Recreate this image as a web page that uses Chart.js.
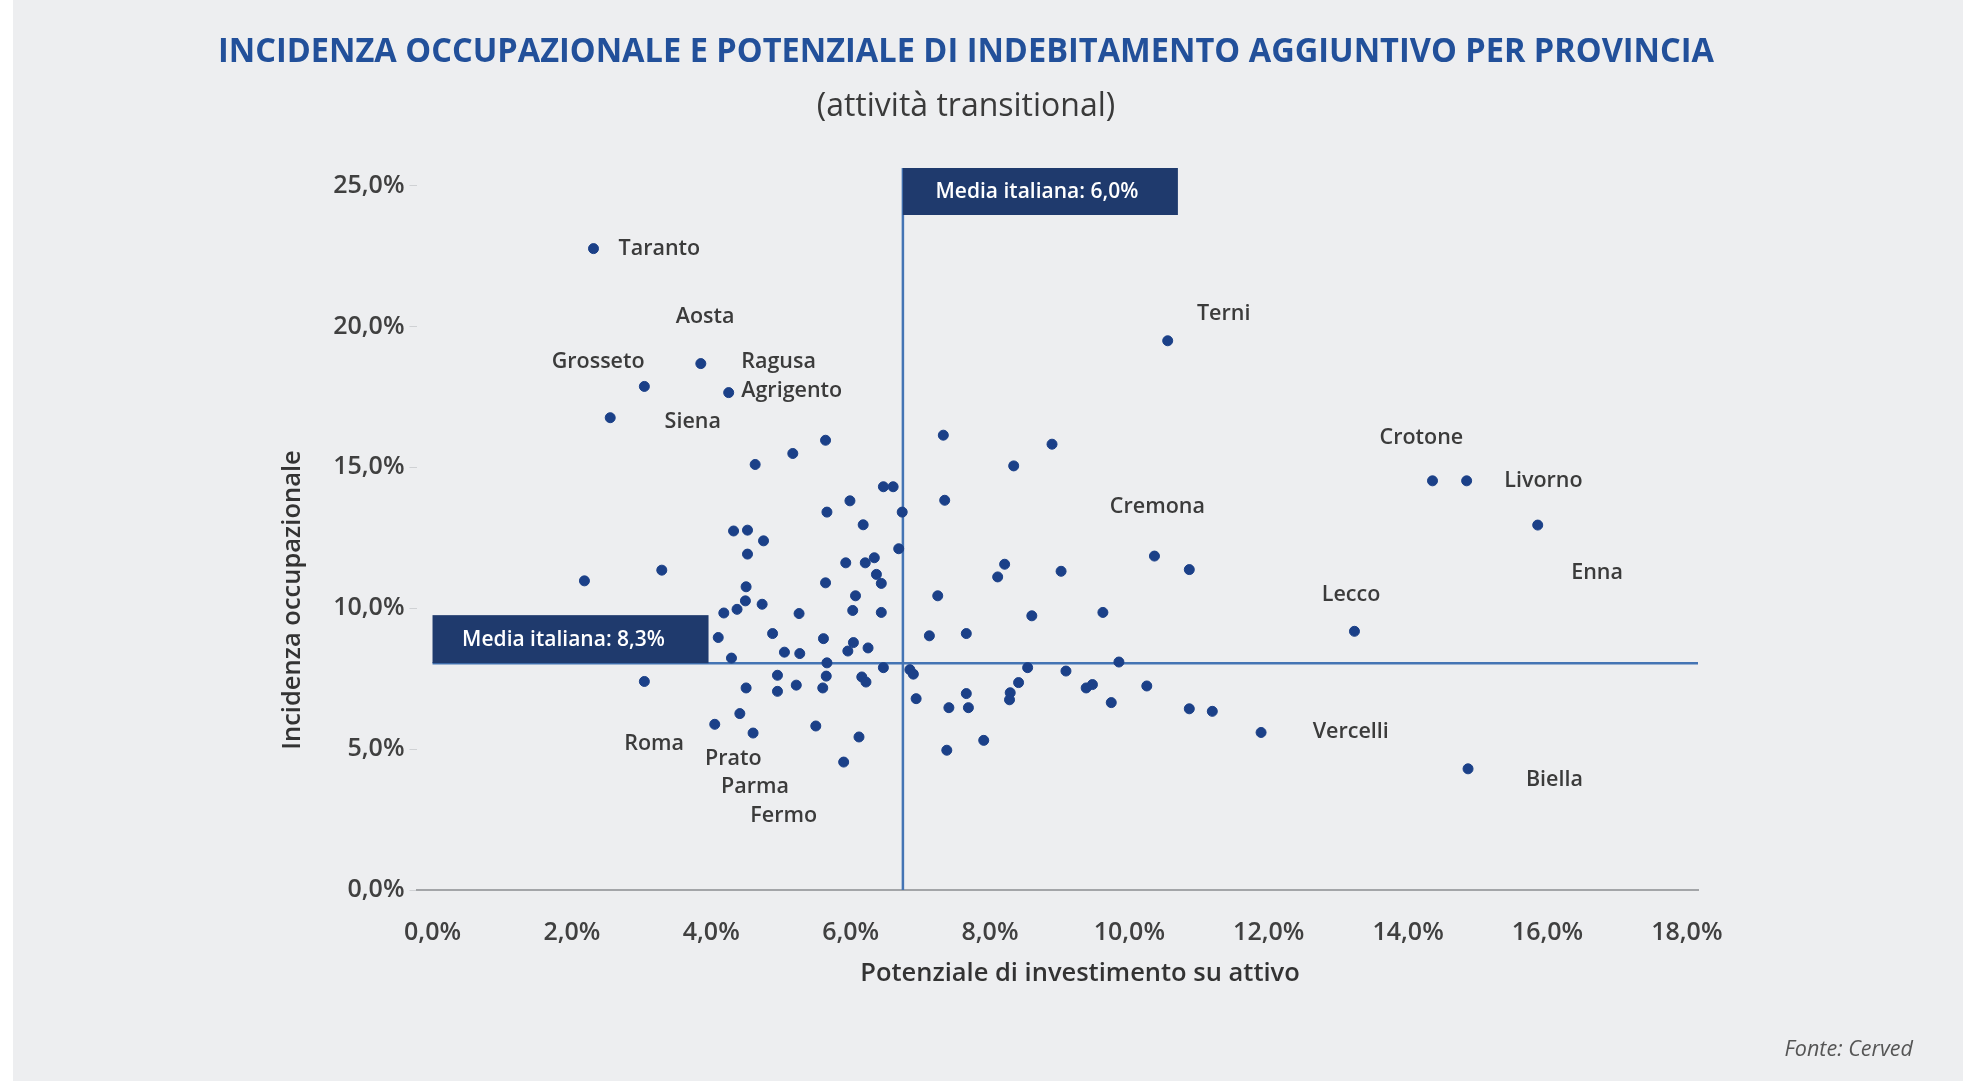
<!DOCTYPE html>
<html lang="it">
<head>
<meta charset="utf-8">
<title>Incidenza occupazionale e potenziale di indebitamento aggiuntivo per provincia</title>
<script src="https://cdn.jsdelivr.net/npm/chart.js@4.4.1/dist/chart.umd.min.js"></script>
<style>
  html, body { margin: 0; padding: 0; background: #ffffff; }
  #wrap { width: 1979px; height: 1084px; }
</style>
</head>
<body>
<div id="wrap"><canvas id="scatter" width="1979" height="1084"></canvas></div>
<script>
// potenziale di investimento su attivo (%) - one entry per province
const xValues = [
  2.31, 3.85, 3.04, 4.25, 2.55, 10.55, 14.35, 14.84, 15.86, 13.23, 11.89, 14.86,
  5.64, 5.17, 4.63, 6.47, 6.61, 5.99, 5.66, 6.74, 6.18, 4.32, 4.52, 4.75, 4.52,
  6.69, 5.93, 6.21, 6.34, 6.37, 6.44, 2.18, 3.29, 5.64, 4.50, 4.49, 4.37, 4.18,
  4.73, 5.26, 6.07, 6.03, 6.44, 7.25, 4.10, 4.88, 5.61, 6.04, 5.96, 6.25, 7.13,
  4.29, 5.05, 5.27, 5.66, 6.47, 6.85, 6.90, 3.04, 4.95, 5.65, 6.16, 6.22, 4.50,
  4.95, 5.22, 5.60, 6.94, 4.41, 4.05, 4.60, 5.50, 6.12, 5.90,
  7.33, 8.89, 8.34, 7.35, 8.21, 8.11, 9.02, 10.36, 10.86, 8.60, 9.62, 7.66,
  8.54, 9.09, 9.85, 8.41, 8.29, 8.28, 9.38, 9.47, 10.25, 7.66, 7.41, 7.69,
  9.74, 10.86, 11.19, 7.91, 7.38
];
// incidenza occupazionale (%)
const yValues = [
  22.76, 18.68, 17.87, 17.65, 16.76, 19.49, 14.52, 14.52, 12.95, 9.18, 5.59, 4.30,
  15.96, 15.49, 15.10, 14.31, 14.31, 13.81, 13.41, 13.41, 12.96, 12.74, 12.77, 12.39, 11.92,
  12.11, 11.61, 11.61, 11.79, 11.20, 10.88, 10.97, 11.35, 10.90, 10.76, 10.26, 9.96, 9.83,
  10.14, 9.81, 10.44, 9.92, 9.85, 10.44, 8.96, 9.10, 8.92, 8.78, 8.48, 8.59, 9.02,
  8.23, 8.44, 8.39, 8.06, 7.89, 7.82, 7.66, 7.40, 7.62, 7.59, 7.56, 7.38, 7.17,
  7.05, 7.27, 7.17, 6.79, 6.26, 5.88, 5.57, 5.82, 5.43, 4.54,
  16.14, 15.82, 15.05, 13.83, 11.56, 11.11, 11.31, 11.85, 11.37, 9.73, 9.85, 9.10,
  7.89, 7.77, 8.09, 7.36, 7.00, 6.75, 7.17, 7.29, 7.24, 6.97, 6.47, 6.47,
  6.65, 6.43, 6.34, 5.31, 4.96
];

// province names shown on the chart, anchored by their left edge / vertical centre
const labelNames = ['Taranto', 'Aosta', 'Grosseto', 'Ragusa', 'Agrigento', 'Siena', 'Terni',
  'Crotone', 'Livorno', 'Enna', 'Cremona', 'Lecco', 'Vercelli', 'Biella',
  'Roma', 'Prato', 'Parma', 'Fermo'];
const labelX = [2.67, 3.49, 1.71, 4.43, 4.43, 3.33, 10.97,
  13.59, 15.38, 16.34, 9.72, 12.76, 12.63, 15.69,
  2.75, 3.91, 4.14, 4.56];
const labelY = [22.76, 20.34, 18.73, 18.73, 17.70, 16.62, 20.43,
  16.04, 14.52, 11.25, 13.58, 10.48, 5.60, 3.90,
  5.20, 4.66, 3.67, 2.64];

// axis ticks
const xTicks = [0, 2, 4, 6, 8, 10, 12, 14, 16, 18];
const yTicks = [0, 5, 10, 15, 20, 25];

// italian averages (line positions as drawn, and their captions)
const mediaX = 6.75;
const mediaY = 8.05;
const mediaXText = 'Media italiana: 6,0%';
const mediaYText = 'Media italiana: 8,3%';

const titleText = 'INCIDENZA OCCUPAZIONALE E POTENZIALE DI INDEBITAMENTO AGGIUNTIVO PER PROVINCIA';
const subtitleText = '(attività transitional)';
const xTitle = 'Potenziale di investimento su attivo';
const yTitle = 'Incidenza occupazionale';
const sourceText = 'Fonte: Cerved';

const pct = v => v.toFixed(1).replace('.', ',') + '%';
const FONT = '"Open Sans", "Noto Sans", sans-serif';

const navy = '#1f3a6d';
const lineBlue = '#4474b4';

const decor = {
  id: 'decor',
  beforeDraw(chart) {
    const ctx = chart.ctx;
    ctx.save();
    ctx.fillStyle = '#ffffff';
    ctx.fillRect(0, 0, chart.width, chart.height);
    ctx.fillStyle = '#edeef0';
    ctx.fillRect(13, 0, 1950, 1081);

    ctx.textAlign = 'center';
    ctx.textBaseline = 'middle';
    ctx.fillStyle = '#22509a';
    ctx.font = 'bold 34px ' + FONT;
    ctx.fillText(titleText, 966, 52, 1496);
    ctx.fillStyle = '#3a3a3a';
    ctx.font = '32px ' + FONT;
    ctx.fillText(subtitleText, 966, 107);

    // axis titles
    ctx.fillStyle = '#333333';
    ctx.font = '600 25.5px ' + FONT;
    ctx.fillText(xTitle, 1080, 974);
    ctx.save();
    ctx.translate(293, 600);
    ctx.rotate(-Math.PI / 2);
    ctx.fillText(yTitle, 0, 0);
    ctx.restore();

    ctx.textAlign = 'right';
    ctx.fillStyle = '#555555';
    ctx.font = 'italic 21.5px ' + FONT;
    ctx.fillText(sourceText, 1913, 1050);
    ctx.restore();
  },
  beforeDatasetsDraw(chart) {
    const {ctx, chartArea, scales: {x, y}} = chart;
    const vx = x.getPixelForValue(mediaX);
    const hy = y.getPixelForValue(mediaY);
    const x0 = x.getPixelForValue(0);
    const boxTop = chartArea.top - 17.5;
    ctx.save();
    ctx.strokeStyle = lineBlue;
    ctx.lineWidth = 2.5;
    ctx.beginPath();
    ctx.moveTo(vx, chartArea.bottom);
    ctx.lineTo(vx, boxTop);
    ctx.moveTo(x0, hy);
    ctx.lineTo(chartArea.right, hy);
    ctx.stroke();

    ctx.fillStyle = navy;
    ctx.fillRect(vx, boxTop, 275, 47);
    ctx.fillRect(x0, hy - 48, 276, 48);
    ctx.fillStyle = '#ffffff';
    ctx.font = '600 21px ' + FONT;
    ctx.textAlign = 'center';
    ctx.textBaseline = 'middle';
    ctx.fillText(mediaXText, vx + 134, boxTop + 24);
    ctx.fillText(mediaYText, x0 + 131, hy - 23);
    ctx.restore();
  },
  afterDatasetsDraw(chart) {
    const {ctx, scales: {x, y}} = chart;
    ctx.save();
    ctx.fillStyle = '#3b3b3b';
    ctx.font = '600 21.5px ' + FONT;
    ctx.textAlign = 'left';
    ctx.textBaseline = 'middle';
    labelNames.forEach((name, i) => {
      ctx.fillText(name, x.getPixelForValue(labelX[i]), y.getPixelForValue(labelY[i]));
    });
    ctx.restore();
  }
};

new Chart(document.getElementById('scatter'), {
  type: 'scatter',
  data: {
    datasets: [{
      label: 'Province',
      data: xValues.map((v, i) => ({x: v, y: yValues[i]})),
      backgroundColor: '#1b4088',
      borderColor: '#1b4088',
      pointRadius: 5,
      pointHoverRadius: 5
    }]
  },
  options: {
    responsive: false,
    animation: false,
    layout: {padding: {left: 270, right: 281, top: 185.5, bottom: 96}},
    plugins: {
      legend: {display: false},
      tooltip: {enabled: false}
    },
    scales: {
      x: {
        type: 'linear',
        min: -0.23,
        max: 18.16,
        afterBuildTicks: s => { s.ticks = xTicks.map(v => ({value: v})); },
        afterFit: s => { s.height = 98; },
        grid: {display: false},
        border: {display: true, color: '#a3a5a8', width: 2},
        ticks: {
          padding: 20,
          color: '#404040',
          font: {family: FONT, size: 25, weight: '600'},
          callback: v => pct(v)
        }
      },
      y: {
        type: 'linear',
        min: 0,
        max: 25,
        afterBuildTicks: s => { s.ticks = yTicks.map(v => ({value: v})); },
        afterFit: s => { s.width = 146.5; },
        grid: {display: true, drawOnChartArea: false, drawTicks: true, tickLength: 7, color: '#cfd1d4'},
        border: {display: false},
        ticks: {
          padding: 5,
          color: '#404040',
          font: {family: FONT, size: 25, weight: '600'},
          callback: v => pct(v)
        }
      }
    }
  },
  plugins: [decor]
});
</script>
</body>
</html>
